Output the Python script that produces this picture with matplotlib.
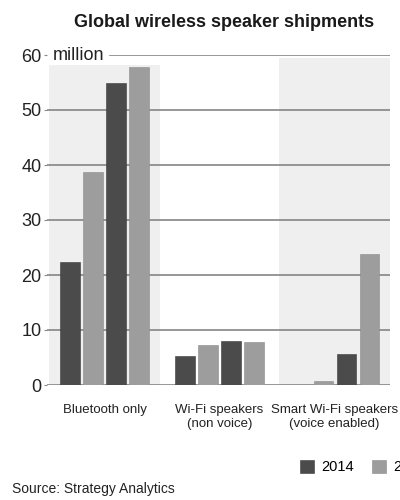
import numpy as np
import matplotlib
matplotlib.use("Agg")
import matplotlib.pyplot as plt

plt.rcParams['font.family'] = ['Liberation Sans', 'DejaVu Sans']

categories = ["Bluetooth only", "Wi-Fi speakers\n(non voice)", "Smart Wi-Fi speakers\n(voice enabled)"]
years = ["2014", "2015", "2016", "2017"]
# million units
values = {
    "2014": [22.4, 5.3, 0.0],
    "2015": [38.7, 7.3, 0.7],
    "2016": [54.9, 8.0, 5.7],
    "2017": [57.8, 7.8, 23.8],
}
yticks = [0, 10, 20, 30, 40, 50, 60]
colors = ["#4b4b4b", "#9d9d9d", "#4b4b4b", "#9d9d9d"]

fig = plt.figure(figsize=(4, 5), dpi=100)
ax = fig.add_axes([0.1175, 0.23, 0.8575, 0.66])

group_x = np.arange(len(categories)) * 5.0
offsets = [-1.5, -0.5, 0.5, 1.5]

# shaded bands behind first and last group
ax.axvspan(group_x[0] - 2.4, group_x[0] + 2.4, ymax=0.97, color="#efefef", lw=0, zorder=0)
ax.axvspan(group_x[2] - 2.4, group_x[2] + 2.6, ymax=0.99, color="#efefef", lw=0, zorder=0)

for t in yticks:
    xmin = 0.185 if t == 60 else 0.0
    ax.axhline(t, xmin=xmin, xmax=1, color="#858585", lw=1.2, zorder=1)

bars = []
for i, y in enumerate(years):
    b = ax.bar(group_x + offsets[i], values[y], width=0.83, color=colors[i],
               edgecolor="#3a3a3a" if i % 2 == 0 else "#8a8a8a", lw=0.4, zorder=2, label=y)
    bars.append(b)

ax.set_xlim(-2.5, 12.41)
ax.set_ylim(0, 60)
ax.set_yticks(yticks)
ax.set_yticklabels([str(t) for t in yticks], fontsize=13, color="#222222")
ax.tick_params(axis='y', length=2, pad=2, color="#8a8a8a")
ax.set_xticks(group_x)
ax.set_xticklabels(categories, fontsize=9.5, color="#222222", linespacing=1.2)
ax.tick_params(axis='x', length=0, pad=14)
for s in ax.spines.values():
    s.set_visible(False)
ax.patch.set_alpha(0)

ax.text(-2.25, 60, "million", fontsize=13, color="#222222", ha="left", va="center",
        transform=ax.transData, clip_on=False)

fig.text(0.56, 0.955, "Global wireless speaker shipments", fontsize=13, fontweight="bold",
         ha="center", va="center", color="#1a1a1a")

# only the first two legend entries fit on the page, as in the source image
fig.legend(bars[:2], years[:2], loc="center left", bbox_to_anchor=(0.735, 0.066), ncol=2,
           frameon=False, fontsize=10.5, handlelength=1.0, handleheight=1.0,
           handletextpad=0.5, columnspacing=1.2, borderaxespad=0)

fig.text(0.03, 0.022, "Source: Strategy Analytics", fontsize=10, ha="left", va="center",
         color="#222222")

fig.savefig("out.png", dpi=100)
